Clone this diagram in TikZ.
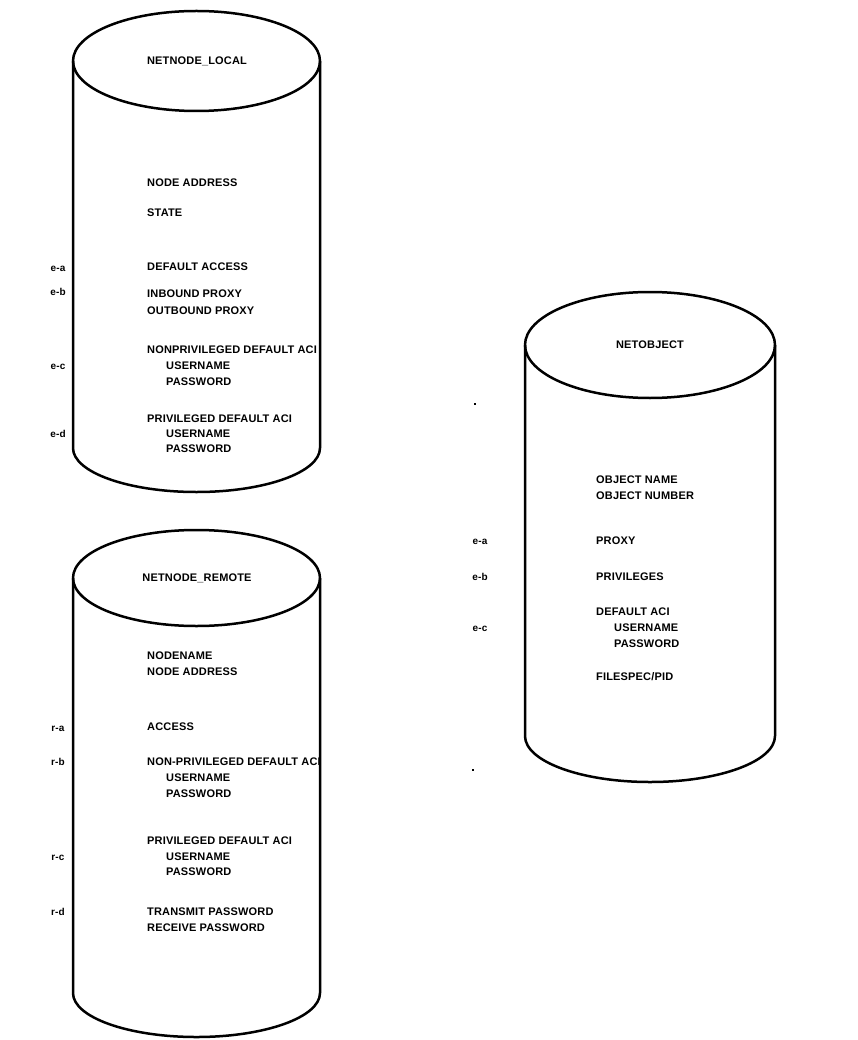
\documentclass[tikz,border=0pt]{standalone}
\usepackage{fontspec}
\setmainfont{Liberation Sans}[LetterSpace=1.5]
\begin{document}
\begin{tikzpicture}[x=1pt,y=-1pt,
  drum/.style={line width=2.5pt,line join=round},
  txt/.style={anchor=base west,inner sep=0pt,font=\fontsize{11}{12}\selectfont\bfseries},
  ttl/.style={anchor=center,inner sep=0pt,font=\fontsize{11}{12}\selectfont\bfseries},
  tag/.style={anchor=base,inner sep=0pt,font=\fontsize{10}{12}\selectfont\bfseries},
  speck/.style={fill=black,inner sep=0pt,minimum size=2pt}]
\useasboundingbox[fill=white] (0,0) rectangle (857,1040);

% cylinder outlines: top ellipse, two sides, lower half ellipse
\draw[drum] (196.5,61) ellipse[x radius=123.5,y radius=50];
\draw[drum] (73,61) -- (73,448) arc[start angle=180,end angle=0,x radius=123.5,y radius=44] -- (320,61);

\draw[drum] (196.5,578) ellipse[x radius=123.5,y radius=48];
\draw[drum] (73,578) -- (73,993) arc[start angle=180,end angle=0,x radius=123.5,y radius=44] -- (320,578);

\draw[drum] (650,345) ellipse[x radius=125,y radius=53];
\draw[drum] (525,345) -- (525,736) arc[start angle=180,end angle=0,x radius=125,y radius=46] -- (775,345);

% two small marks between the columns
\node[speck] (s1) at (475,404) {};
\node[speck] (s2) at (473,770) {};

% NETNODE_LOCAL
\node[ttl] (lt) at (197,61) {NETNODE\_LOCAL};
\node[txt] (l1) at (147,187) {NODE ADDRESS};
\node[txt] (l2) at (147,217) {STATE};
\node[txt] (l3) at (147,271) {DEFAULT ACCESS};
\node[txt] (l4) at (147,298) {INBOUND PROXY};
\node[txt] (l5) at (147,314) {OUTBOUND PROXY};
\node[txt] (l6) at (147,353) {NONPRIVILEGED DEFAULT ACI};
\node[txt] (l7) at (166,369) {USERNAME};
\node[txt] (l8) at (166,385) {PASSWORD};
\node[txt] (l9) at (147,422) {PRIVILEGED DEFAULT ACI};
\node[txt] (l10) at (166,437) {USERNAME};
\node[txt] (l11) at (166,452) {PASSWORD};
\node[tag] (ea) at (58,272) {e-a};
\node[tag] (eb) at (58,295) {e-b};
\node[tag] (ec) at (58,369) {e-c};
\node[tag] (ed) at (58,437) {e-d};

% NETNODE_REMOTE
\node[ttl] (rt) at (197,578) {NETNODE\_REMOTE};
\node[txt] (r1) at (147,659) {NODENAME};
\node[txt] (r2) at (147,675) {NODE ADDRESS};
\node[txt] (r3) at (147,730) {ACCESS};
\node[txt] (r4) at (147,765) {NON-PRIVILEGED DEFAULT ACI};
\node[txt] (r5) at (166,781) {USERNAME};
\node[txt] (r6) at (166,797) {PASSWORD};
\node[txt] (r7) at (147,844) {PRIVILEGED DEFAULT ACI};
\node[txt] (r8) at (166,860) {USERNAME};
\node[txt] (r9) at (166,875) {PASSWORD};
\node[txt] (r10) at (147,915) {TRANSMIT PASSWORD};
\node[txt] (r11) at (147,931) {RECEIVE PASSWORD};
\node[tag] (ra) at (58,731) {r-a};
\node[tag] (rb) at (58,765) {r-b};
\node[tag] (rc) at (58,860) {r-c};
\node[tag] (rd) at (58,915) {r-d};

% NETOBJECT
\node[ttl] (ot) at (650,345) {NETOBJECT};
\node[txt] (o1) at (596,483) {OBJECT NAME};
\node[txt] (o2) at (596,499) {OBJECT NUMBER};
\node[txt] (o3) at (596,544) {PROXY};
\node[txt] (o4) at (596,580) {PRIVILEGES};
\node[txt] (o5) at (596,615) {DEFAULT ACI};
\node[txt] (o6) at (614,631) {USERNAME};
\node[txt] (o7) at (614,647) {PASSWORD};
\node[txt] (o8) at (596,680) {FILESPEC/PID};
\node[tag] (oa) at (480,544) {e-a};
\node[tag] (ob) at (480,580) {e-b};
\node[tag] (oc) at (480,631) {e-c};
\end{tikzpicture}
\end{document}
